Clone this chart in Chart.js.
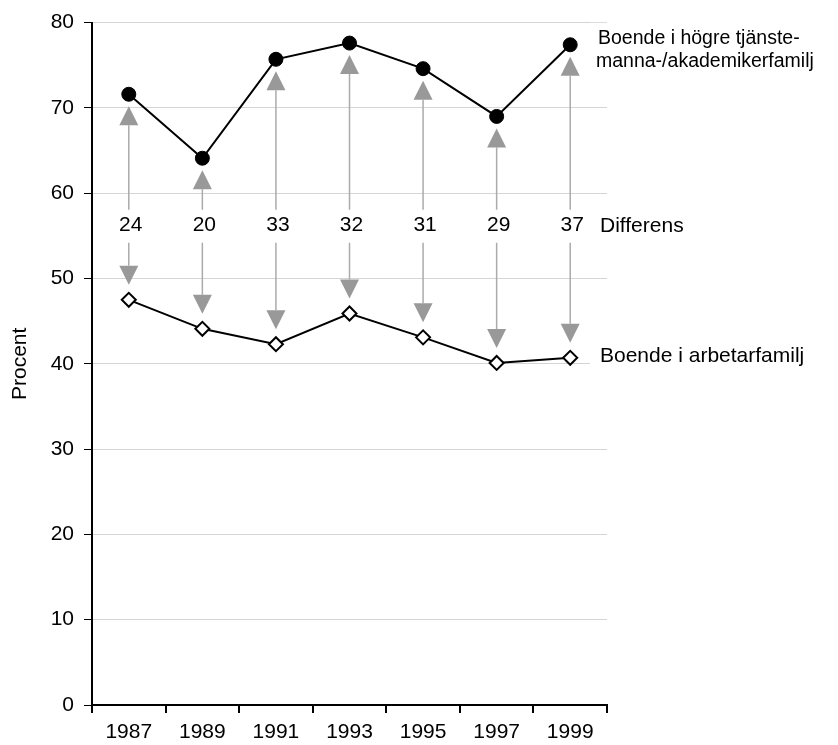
<!DOCTYPE html>
<html lang="sv">
<head>
<meta charset="utf-8">
<title>Procent boende i högre tjänstemanna-/akademikerfamilj och arbetarfamilj</title>
<script src="https://cdn.jsdelivr.net/npm/chart.js@4.4.0/dist/chart.umd.min.js"></script>
<style>
    html, body { margin: 0; padding: 0; background: #fff; }
    #wrap { width: 838px; height: 745px; }
</style>
</head>
<body>
<div id="wrap"><canvas id="diffChart" width="838" height="745"></canvas></div>
<script>
// År på x-axeln
const years = ['1987', '1989', '1991', '1993', '1995', '1997', '1999'];
// Boende i högre tjänstemanna-/akademikerfamilj (procent)
const hogreValues = [71.6, 64.1, 75.7, 77.6, 74.6, 69.0, 77.4];
// Boende i arbetarfamilj (procent)
const arbetarValues = [47.5, 44.1, 42.3, 45.9, 43.1, 40.1, 40.7];
// Differens mellan grupperna (procentenheter)
const differens = [24, 20, 33, 32, 31, 29, 37];
// nivå (procent) där differenstalen står
const differensLevel = 56.3;

// texter till höger om diagrammet
const hogreLabel = ['Boende i högre tjänste-', 'manna-/akademikerfamilj'];
const arbetarLabel = 'Boende i arbetarfamilj';
const differensLabel = 'Differens';

const FONT = "'Liberation Sans', Arial, Helvetica, sans-serif";
const FONT_SIZE = 21;
Chart.defaults.font.family = FONT;
Chart.defaults.font.size = FONT_SIZE;
Chart.defaults.color = '#000';

// ritar pilarna, differenstalen och seriernas namn
const arrowPlugin = {
    id: 'arrows',
    beforeDatasetsDraw(chart) {
        const ctx = chart.ctx;
        const x = chart.scales.x;
        const y = chart.scales.y;
        const mid = y.getPixelForValue(differensLevel);
        const hw = 9.5, hh = 19;

        ctx.save();
        for (let i = 0; i < years.length; i++) {
            const px = x.getPixelForValue(i);
            const top = y.getPixelForValue(hogreValues[i]) + 12;   // spets uppåt
            const bottom = y.getPixelForValue(arbetarValues[i]) - 15; // spets nedåt

            // linjer
            ctx.strokeStyle = '#ababab';
            ctx.lineWidth = 1.5;
            ctx.beginPath();
            ctx.moveTo(px, top + hh);
            ctx.lineTo(px, mid - 15);
            ctx.moveTo(px, mid + 18);
            ctx.lineTo(px, bottom - hh);
            ctx.stroke();

            // pilspetsar
            ctx.fillStyle = '#999999';
            ctx.beginPath();
            ctx.moveTo(px, top);
            ctx.lineTo(px - hw, top + hh);
            ctx.lineTo(px + hw, top + hh);
            ctx.closePath();
            ctx.fill();
            ctx.beginPath();
            ctx.moveTo(px, bottom);
            ctx.lineTo(px - hw, bottom - hh);
            ctx.lineTo(px + hw, bottom - hh);
            ctx.closePath();
            ctx.fill();

            // differenstal
            ctx.fillStyle = '#000';
            ctx.font = FONT_SIZE + 'px ' + FONT;
            ctx.textAlign = 'center';
            ctx.textBaseline = 'middle';
            ctx.fillText(String(differens[i]), px + 2, mid);
        }
        ctx.restore();
    },
    afterDraw(chart) {
        const ctx = chart.ctx;
        const y = chart.scales.y;
        const last = years.length - 1;
        const left = chart.chartArea.right - 17;
        const tx = left + 8;

        ctx.save();
        ctx.textAlign = 'left';
        ctx.textBaseline = 'alphabetic';

        // övre serien (två rader)
        const yh = y.getPixelForValue(hogreValues[last]);
        ctx.fillStyle = '#fff';
        ctx.fillRect(left, yh - 22, 838 - left, 50);
        ctx.fillStyle = '#000';
        ctx.font = '19.5px ' + FONT;
        ctx.fillText(hogreLabel[0], tx, yh - 1);
        ctx.fillText(hogreLabel[1], tx - 2, yh + 22);

        // differens
        ctx.font = FONT_SIZE + 'px ' + FONT;
        ctx.fillText(differensLabel, tx + 2, y.getPixelForValue(differensLevel) + 7);

        // nedre serien
        const ya = y.getPixelForValue(arbetarValues[last]);
        ctx.fillStyle = '#fff';
        ctx.fillRect(left, ya - 14, 838 - left, 24);
        ctx.fillStyle = '#000';
        ctx.fillText(arbetarLabel, tx + 2, ya + 4);
        ctx.restore();
    }
};

document.addEventListener('DOMContentLoaded', function() {
    const ctx = document.getElementById('diffChart').getContext('2d');
    new Chart(ctx, {
        type: 'line',
        data: {
            labels: years,
            datasets: [{
                label: hogreLabel.join(''),
                data: hogreValues,
                borderColor: '#000',
                borderWidth: 2,
                backgroundColor: '#000',
                pointStyle: 'circle',
                pointRadius: 7,
                pointBackgroundColor: '#000',
                pointBorderColor: '#000',
                pointBorderWidth: 1,
                tension: 0
            }, {
                label: arbetarLabel,
                data: arbetarValues,
                borderColor: '#000',
                borderWidth: 2,
                pointStyle: 'rectRot',
                pointRadius: 7,
                pointBackgroundColor: '#fff',
                pointBorderColor: '#000',
                pointBorderWidth: 2,
                tension: 0
            }]
        },
        options: {
            responsive: false,
            animation: false,
            devicePixelRatio: 1,
            layout: { padding: { left: 0, right: 231, top: 22, bottom: 0 } },
            plugins: {
                legend: { display: false },
                tooltip: { enabled: false }
            },
            scales: {
                x: {
                    type: 'category',
                    offset: true,
                    grid: {
                        offset: true,
                        drawOnChartArea: false,
                        color: '#000',
                        tickColor: '#000',
                        tickLength: 8,
                        lineWidth: 2
                    },
                    border: { color: '#000', width: 2 },
                    ticks: { padding: 7, maxRotation: 0, autoSkip: false },
                    afterFit: function(scale) { scale.height = 40; }
                },
                y: {
                    min: 0,
                    max: 80,
                    ticks: { stepSize: 10, padding: 10 },
                    grid: {
                        color: '#d4d4d4',
                        lineWidth: 1,
                        tickColor: '#000',
                        tickLength: 8
                    },
                    border: { color: '#000', width: 2 },
                    title: {
                        display: true,
                        text: 'Procent',
                        padding: { top: 8, bottom: 0 },
                        font: { size: FONT_SIZE }
                    },
                    afterFit: function(scale) { scale.width = 92; }
                }
            }
        },
        plugins: [arrowPlugin]
    });
});
</script>
</body>
</html>
